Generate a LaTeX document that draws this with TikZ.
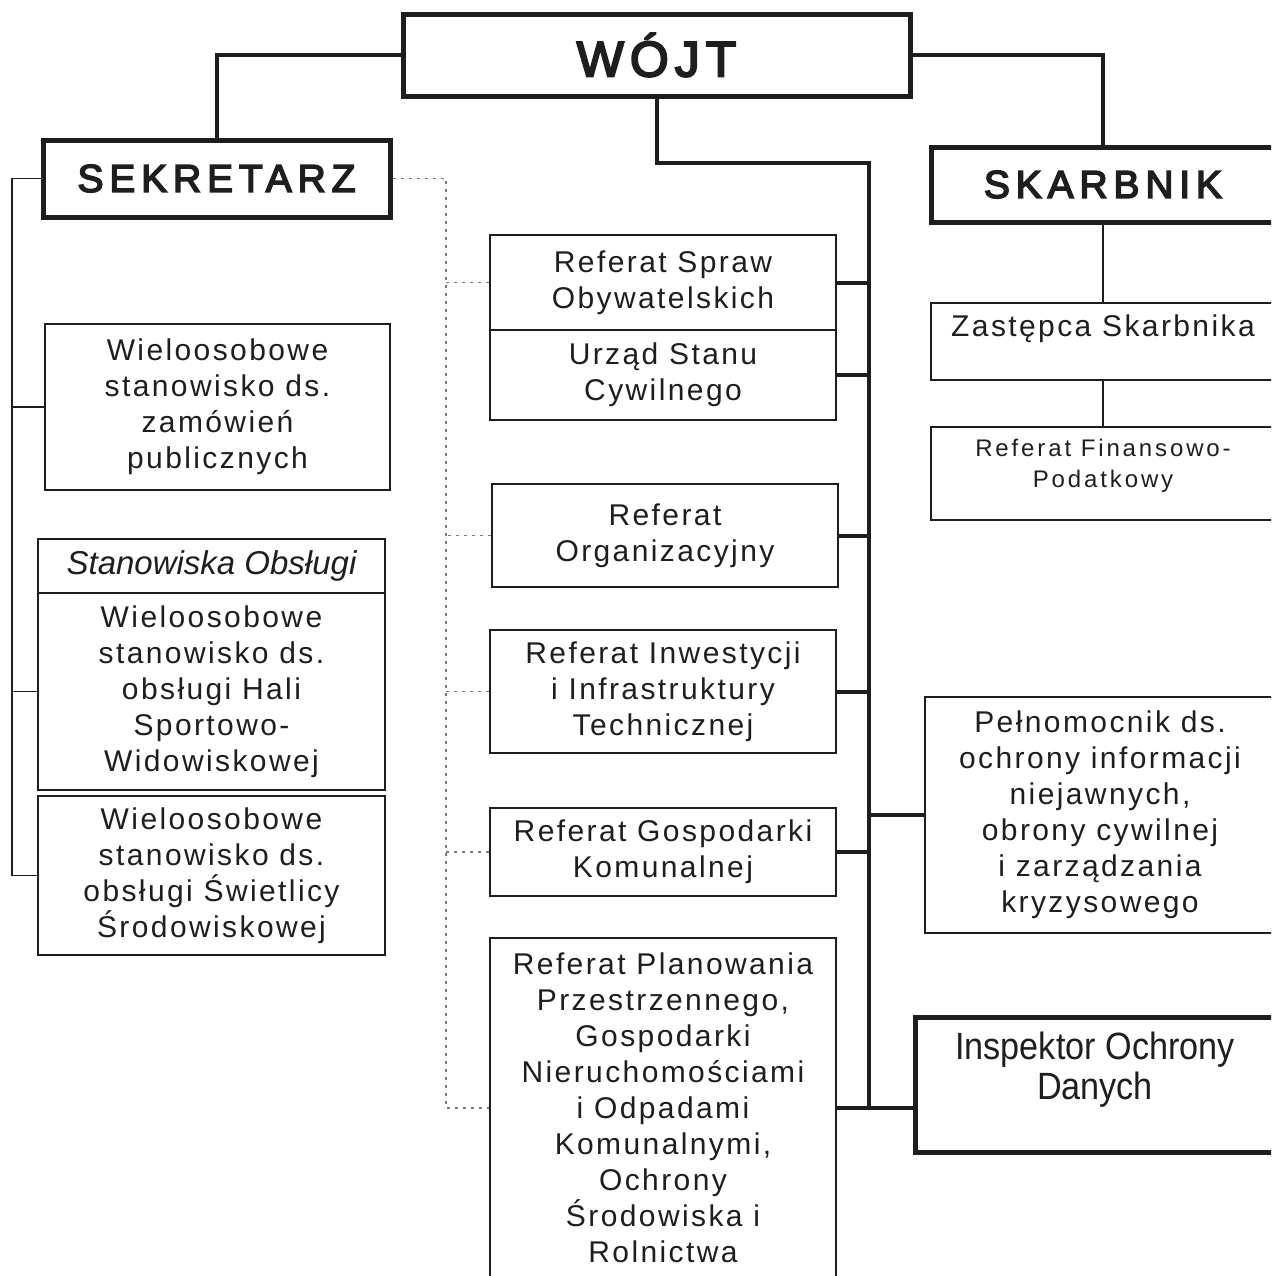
\documentclass[tikz,border=0pt]{standalone}
\usepackage{fontspec}
\setmainfont{Liberation Sans}
\newfontfamily\unitfont{Liberation Sans}[LetterSpace=8]
\newfontfamily\headfont{Liberation Sans}[LetterSpace=15,FakeBold=4]
\newfontfamily\narrowfont{Liberation Sans}[FakeStretch=0.9]
\definecolor{ink}{HTML}{1E1E1E}
\definecolor{dots}{HTML}{7A7A7A}

\tikzstyle{head office}  = [draw=ink,line width=2.5pt,text=ink,inner sep=0pt,font=\headfont\fontsize{19.5}{22}\selectfont]
\tikzstyle{unit}         = [draw=ink,line width=1pt,text=ink,align=center,inner sep=0pt,font=\unitfont\fontsize{15}{18}\selectfont]
\tikzstyle{caption}      = [text=ink,align=center,inner sep=0pt,font=\unitfont\fontsize{15}{18}\selectfont]
\tikzstyle{link}         = [draw=ink,line width=2pt]
\tikzstyle{thin link}    = [draw=ink,line width=0.8pt]
\tikzstyle{supervision}  = [draw=dots,line width=0.9pt,dash pattern=on 1.5pt off 2.5pt]

\begin{document}
\begin{tikzpicture}[x=0.5pt,y=-0.5pt]
\useasboundingbox (0,0) rectangle (1271,1276);
\clip (0,0) rectangle (1271,1276);
% Draw the head offices
\node[head office,minimum width=253.5pt,minimum height=41pt,font=\headfont\addfontfeature{LetterSpace=12}\fontsize{25}{27}\selectfont] (wojt) at (656.5,55) {WÓJT};
\node[head office,minimum width=173.5pt,minimum height=38.5pt] (sekretarz) at (216.5,178.5) {SEKRETARZ};
\node[head office,minimum width=172pt,minimum height=37.5pt] (skarbnik) at (1103,184.5) {SKARBNIK};
% Draw the treasurer's units
\node[unit,minimum width=172pt,minimum height=38.5pt] (zastepca) at (1103,341.5) {};
\node[caption] (zastepca-t) at (1103,329) {Zastępca Skarbnika};
\node[unit,minimum width=172pt,minimum height=46.5pt] (finanse) at (1103,473.5) {};
\node[caption,font=\unitfont\addfontfeature{LetterSpace=12}\fontsize{12}{15.5}\selectfont] (finanse-t) at (1103,466) {Referat Finansowo-\\Podatkowy};
% Draw the departments
\node[unit,minimum width=173pt,minimum height=47.5pt] (sprawy) at (663,282.5) {Referat Spraw\\Obywatelskich};
\node[unit,minimum width=173pt,minimum height=45pt] (usc) at (663,375) {Urząd Stanu\\Cywilnego};
\node[unit,minimum width=173pt,minimum height=51.5pt] (organizacyjny) at (665,535.5) {Referat\\Organizacyjny};
\node[unit,minimum width=173pt,minimum height=61.5pt] (inwestycje) at (663,691.5) {Referat Inwestycji\\i Infrastruktury\\Technicznej};
\node[unit,minimum width=173pt,minimum height=44pt] (komunalny) at (663,852) {Referat Gospodarki\\Komunalnej};
\node[unit,minimum width=173pt,minimum height=170pt] (planowanie) at (663,1108) {Referat Planowania\\Przestrzennego,\\Gospodarki\\Nieruchomościami\\i Odpadami\\Komunalnymi,\\Ochrony\\Środowiska i\\Rolnictwa};
% Draw the secretary's posts
\node[unit,minimum width=172.5pt,minimum height=83pt] (zamowienia) at (217.5,407) {Wieloosobowe\\stanowisko ds.\\zamówień\\publicznych};
\node[unit,minimum width=173.5pt,minimum height=27pt,font=\normalfont\itshape\fontsize{16.5}{18}\selectfont] (obsluga) at (211.5,566) {Stanowiska Obsługi};
\node[unit,minimum width=173.5pt,minimum height=98.5pt] (hala) at (211.5,691.5) {Wieloosobowe\\stanowisko ds.\\obsługi Hali\\Sportowo-\\Widowiskowej};
\node[unit,minimum width=173.5pt,minimum height=79.5pt] (swietlica) at (211.5,875.5) {Wieloosobowe\\stanowisko ds.\\obsługi Świetlicy\\Środowiskowej};
% Draw the independent posts
\node[unit,minimum width=175pt,minimum height=118pt] (pelnomocnik) at (1100,815) {Pełnomocnik ds.\\ochrony informacji\\niejawnych,\\obrony cywilnej\\i zarządzania\\kryzysowego};
\node[unit,line width=2.5pt,minimum width=180pt,minimum height=67.5pt] (inspektor) at (1095,1084.5) {};
\node[caption,font=\narrowfont\fontsize{19}{20}\selectfont] (inspektor-t) at (1095,1070) {Inspektor Ochrony\\Danych};
% Draw the lines of command
\draw[link] (wojt.west) -| (sekretarz.north);
\draw[link] (wojt.east) -| (skarbnik.north);
\coordinate (bus top) at (869,163);
\coordinate (bus end) at (869,1108);
\draw[link] (wojt.south) |- (bus top) -- (bus end);
\foreach \office in {sprawy,usc,organizacyjny,inwestycje,komunalny,planowanie}
  \draw[link] (\office.east) -- (\office.east -| bus top);
\draw[link] (pelnomocnik.west) -- (pelnomocnik.west -| bus top);
\draw[link] (bus end) -- (bus end -| inspektor.west);
% Draw the treasurer's branch
\draw[thin link] (skarbnik.south) -- (zastepca.north);
\draw[thin link] (zastepca.south) -- (finanse.north);
% Draw the secretary's branch
\coordinate (tree top) at (12,178.5);
\draw[thin link] (sekretarz.west) -- (tree top) -- (tree top |- swietlica.west) -- (swietlica.west);
\foreach \office in {zamowienia,hala}
  \draw[thin link] (\office.west) -- (\office.west -| tree top);
% Draw the secretary's supervision
\coordinate (dots top) at (446,178.5);
\draw[supervision] (sekretarz.east) -- (dots top) -- (dots top |- planowanie.west) -- (planowanie.west);
\foreach \office in {sprawy,organizacyjny,inwestycje,komunalny}
  \draw[supervision] (\office.west) -- (\office.west -| dots top);
\end{tikzpicture}
\end{document}
